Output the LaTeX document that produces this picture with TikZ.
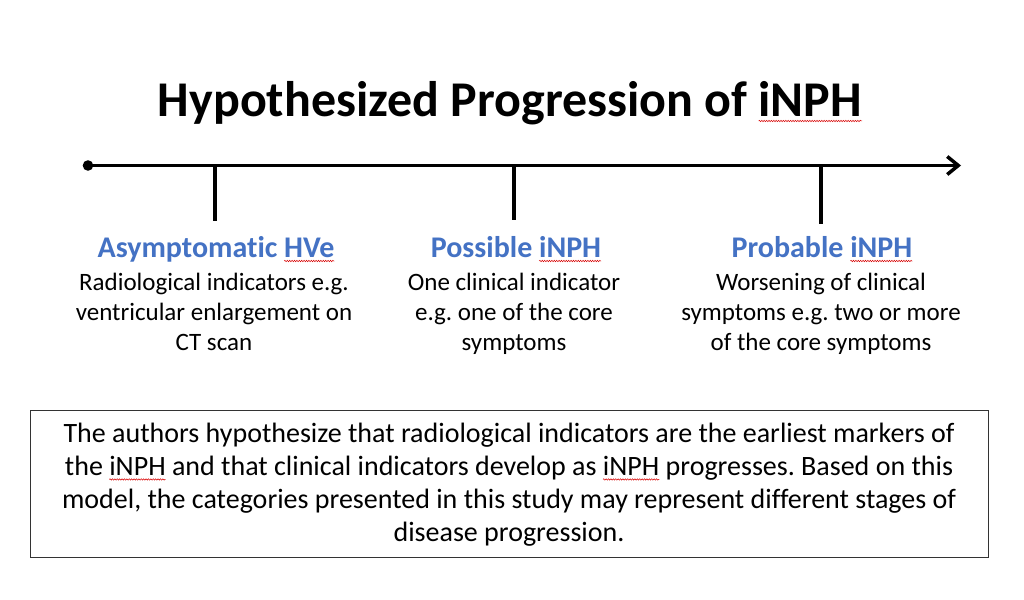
\documentclass[tikz,border=0pt]{standalone}
\usepackage{fontspec}
\setmainfont{Carlito}[Ligatures=NoCommon]
\usetikzlibrary{arrows.meta,decorations.pathmorphing}
\definecolor{headblue}{HTML}{4472C4}
\frenchspacing
\newdimen\rwavewd
\newcommand\redwave[1]{\setbox0=\hbox{#1}\rwavewd=\wd0\relax\leavevmode\rlap{\tikz[overlay,baseline=0pt]\draw[red!85!black, line width=0.5pt, decorate, decoration={snake, amplitude=0.7pt, segment length=2.4pt}] (0pt,-4pt) -- (\rwavewd,-4pt);}\box0\relax}
\tikzset{
  axis/.style={line width=3.5pt},
  tick/.style={line width=3.5pt},
  head/.style={font=\bfseries\fontsize{30}{34}\selectfont, text=headblue, anchor=base, inner sep=0pt},
  body/.style={font=\fontsize{25}{30}\selectfont, align=center, anchor=north, inner sep=0pt},
  note/.style={draw=black!80, line width=1pt, minimum width=958pt, minimum height=147pt, inner sep=0pt},
  notetext/.style={font=\fontsize{28}{32.8}\selectfont, align=center, anchor=north, inner sep=0pt}
}
\begin{document}
\begin{tikzpicture}[x=1pt,y=-1pt]
\useasboundingbox[fill=white] (0,0) rectangle (1024,599);
\node[font=\bfseries\fontsize{50}{54}\selectfont, anchor=base, inner sep=0pt] (title) at (510,117) {Hypothesized Progression of \redwave{iNPH}};
\fill (88,165.5) circle (5.3pt) coordinate (start);
\coordinate (end) at (961,165.5);
\draw[axis, -{Straight Barb[length=11pt,width=18pt,line width=3.5pt]}] (start) -- (end);
\coordinate (t1) at (215,165); \coordinate (b1) at (215,221);
\coordinate (t2) at (514,165); \coordinate (b2) at (514,220);
\coordinate (t3) at (821,165); \coordinate (b3) at (821,224);
\draw[tick] (t1) -- (b1);
\draw[tick] (t2) -- (b2);
\draw[tick] (t3) -- (b3);
\node[head] (h1) at (216,257) {Asymptomatic \redwave{HVe}};
\node[head] (h2) at (516,257) {Possible \redwave{iNPH}};
\node[head] (h3) at (822,257) {Probable \redwave{iNPH}};
\node[body] (d1) at (214,273) {Radiological indicators e.g.\\ventricular enlargement on\\CT scan};
\node[body] (d2) at (514,273) {One clinical indicator\\e.g. one of the core\\symptoms};
\node[body] (d3) at (821,273) {Worsening of clinical\\symptoms e.g. two or more\\of the core symptoms};
\node[note] (box) at (509,483.5) {};
\node[notetext] (boxtext) at (509,423) {The authors hypothesize that radiological indicators are the earliest markers of\\the \redwave{iNPH} and that clinical indicators develop as \redwave{iNPH} progresses. Based on this\\model, the categories presented in this study may represent different stages of\\disease progression.};
\end{tikzpicture}
\end{document}
